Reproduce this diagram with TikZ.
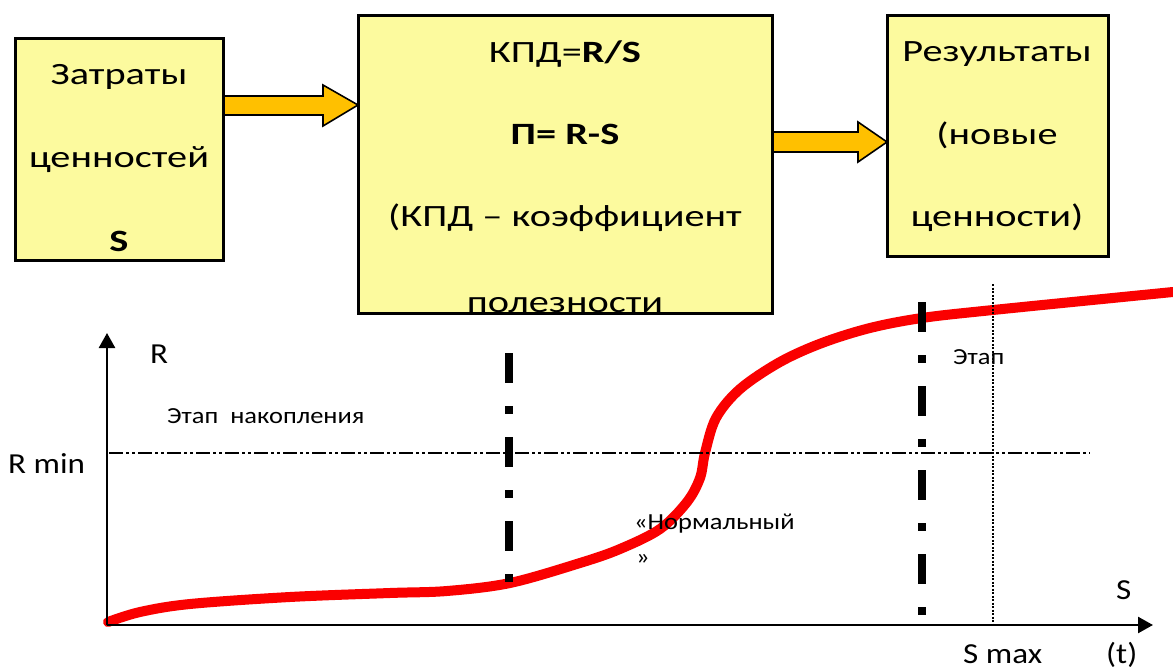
\documentclass[tikz,border=0pt]{standalone}
\usepackage{fontspec}
\setmainfont[FakeStretch=1.3]{Carlito}
\newfontfamily\lblfont[FakeStretch=1.14]{Carlito}
\newfontfamily\notefont[FakeStretch=1.15]{Carlito}
\usetikzlibrary{arrows.meta,calc,backgrounds}
\definecolor{boxfill}{RGB}{252,250,158}
\definecolor{arrfill}{RGB}{255,192,0}
\definecolor{curvered}{RGB}{250,0,0}
\begin{document}
\begin{tikzpicture}[x=1pt,y=-1pt,
  box/.style={draw=black, line width=3pt, fill=boxfill, inner sep=0pt, outer sep=0pt, anchor=north west},
  boxtxt/.style={anchor=base, inner sep=0pt, font=\fontsize{31}{36}\selectfont},
  lbl/.style={anchor=base west, inner sep=0pt, font=\lblfont\fontsize{29}{34}\selectfont},
  note/.style={anchor=base west, inner sep=0pt, font=\notefont\fontsize{23}{28}\selectfont},
  blockarrow/.style={draw=black, line width=1.6pt, fill=arrfill, line join=miter},
  axisline/.style={line width=2.5pt, -{Triangle[length=15pt,width=16pt]}},
  curveline/.style={draw=curvered, line width=10pt, line cap=round},
  stageline/.style={line width=8pt, dash pattern=on 30pt off 23pt on 8pt off 23pt},
  rminline/.style={line width=2pt, dash pattern=on 14pt off 3pt on 3pt off 3pt on 3pt off 3pt},
  smaxline/.style={line width=2pt, dash pattern=on 2pt off 1.5pt}
]
\useasboundingbox (0,0) rectangle (1173,671);

% boxes
\node[box, minimum width=208pt, minimum height=222pt] (b1) at (15,39) {};
\node[box, minimum width=414pt, minimum height=297pt] (b2) at (358,16) {};
\node[box, minimum width=221pt, minimum height=241pt] (b3) at (887,16) {};

% block arrows
\coordinate (ya) at (0,105);
\coordinate (yb) at (0,142);
\path (b1.east |- ya) coordinate (a1s) (b2.west |- ya) coordinate (a1e);
\path (b2.east |- yb) coordinate (a2s) (b3.west |- yb) coordinate (a2e);
\begin{pgfonlayer}{background}
\fill[white] (0,0) rectangle (1173,671);
\draw[blockarrow] ($(a1s)+(0,-9)$) -- ($(a1e)+(-35,-9)$) -- ($(a1e)+(-35,-20)$) -- (a1e)
  -- ($(a1e)+(-35,21)$) -- ($(a1e)+(-35,10)$) -- ($(a1s)+(0,10)$) -- cycle;
\draw[blockarrow] ($(a2s)+(0,-10)$) -- ($(a2e)+(-29,-10)$) -- ($(a2e)+(-29,-20)$) -- (a2e)
  -- ($(a2e)+(-29,20)$) -- ($(a2e)+(-29,10)$) -- ($(a2s)+(0,10)$) -- cycle;
\end{pgfonlayer}

% box texts
\node[boxtxt] (t11) at (119,85) {Затраты};
\node[boxtxt] (t12) at (119,168) {ценностей};
\node[boxtxt] (t13) at (119,252) {\bfseries S};

\begin{scope}
\clip (358,16) rectangle (772,311.5);
\node[boxtxt] (t21) at (565,63) {КПД=\textbf{R/S}};
\node[boxtxt] (t22) at (565,145) {\bfseries П= R-S};
\node[boxtxt] (t23) at (565,227) {(КПД – коэффициент};
\node[boxtxt] (t24) at (565,312) {полезности};
\end{scope}

\node[boxtxt] (t31) at (997,62) {Результаты};
\node[boxtxt] (t32) at (997,145) {(новые};
\node[boxtxt] (t33) at (997,227) {ценности)};

% chart
\coordinate (O) at (107,625);
\coordinate (ytip) at (107,333);
\coordinate (xtip) at (1153,625);

\draw[curveline] plot[smooth, tension=0.55] coordinates {
 (108,622) (140,612) (190,604) (290,597) (390,593) (447,591) (510,583) (580,563)
 (620,549) (660,529) (687,502) (700,478) (705,453) (716,418) (740,389)
 (780,362) (822,343) (870,328) (922,318) (993,310) (1173,292)};

\draw[rminline] (109,453) -- (1090,453);
\draw[smaxline] (993,284) -- (993,625);
\draw[stageline] (509,353) -- (509,583);
\draw[stageline] (922,302) -- (922,617);

\draw[axisline] (O) -- (ytip);
\draw[axisline] (O) -- (xtip);

\node[lbl] (lR) at (150,363) {R};
\node[lbl] (lRmin) at (8,473) {R min};
\node[lbl] (lS) at (1116,599) {S};
\node[lbl] (lSmax) at (963,663) {S max};
\node[lbl] (lt) at (1106,663) {(t)};
\node[note] (n1) at (167,423) {Этап\ \ накопления};
\node[note] (n2) at (953,364) {Этап};
\node[note] (n3) at (634,529) {«Нормальный};
\node[note] (n4) at (636,564) {»};
\end{tikzpicture}
\end{document}
